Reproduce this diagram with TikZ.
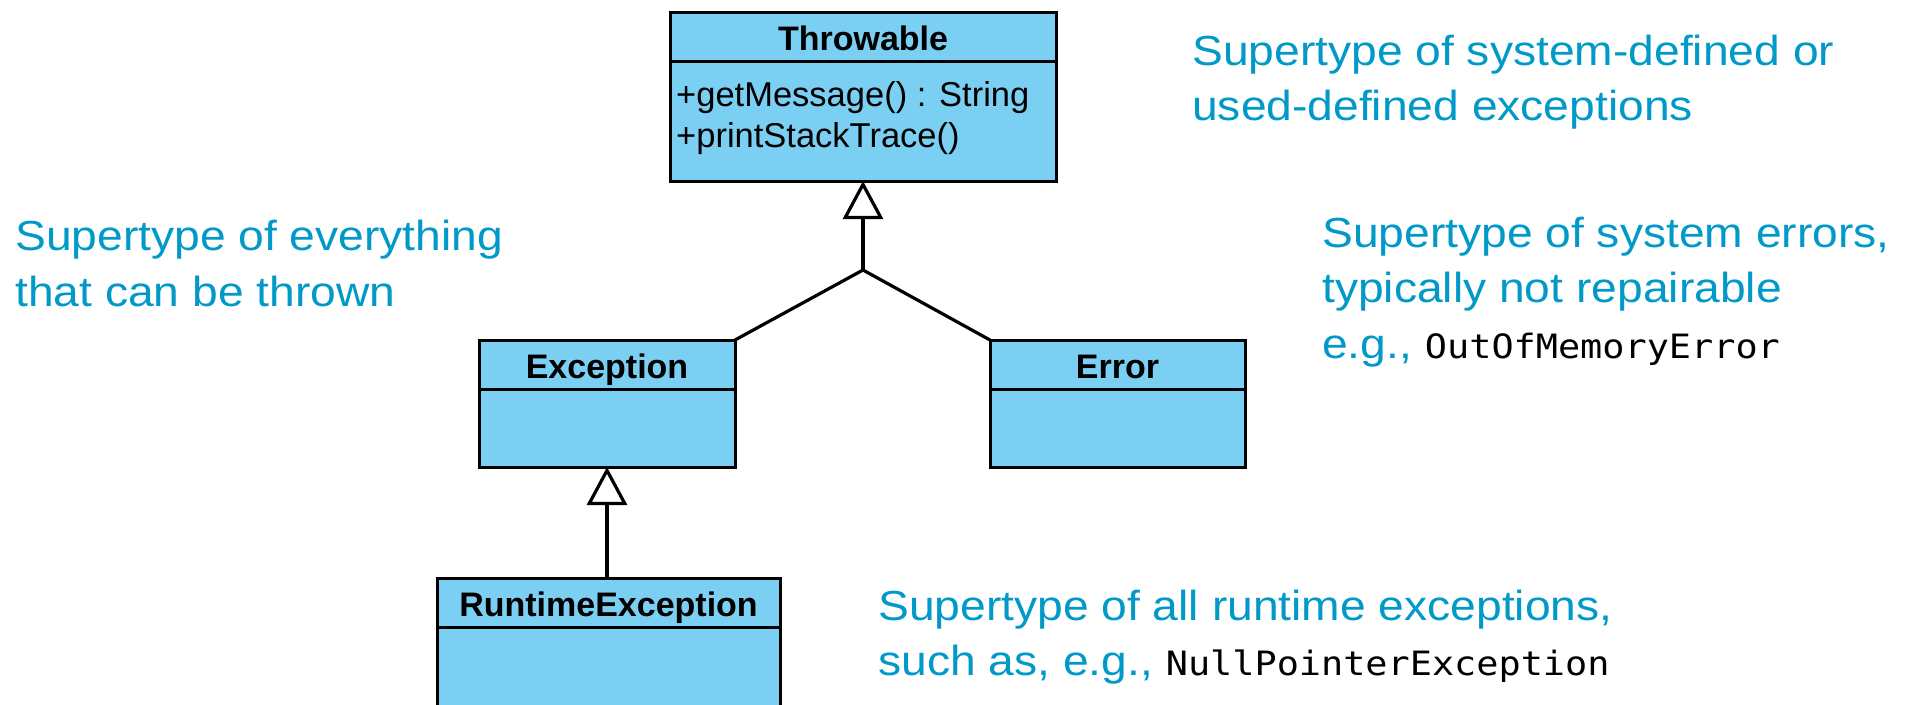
\documentclass[tikz,border=0pt]{standalone}
\usepackage{fontspec}
\setmainfont{Liberation Sans}[FakeStretch=1.1]
\newfontfamily\umlfont{Liberation Sans}
\newfontfamily\codefont{DejaVu Sans Mono}[FakeStretch=1.1]
\usetikzlibrary{arrows.meta}
\definecolor{umlfill}{RGB}{122,207,243}
\definecolor{noteblue}{RGB}{0,153,200}
\newcommand{\code}[1]{{\color{black}\codefont\fontsize{33.5}{40}\selectfont #1}}

\begin{document}
\begin{tikzpicture}[x=1pt,y=-1pt,
  classhead/.style={draw=black, fill=umlfill, line width=3pt, inner sep=0pt,
    outer sep=0pt, anchor=north west, text height=38pt, text depth=11pt,
    font=\umlfont\fontsize{34}{40}\selectfont\bfseries},
  classbody/.style={draw=black, fill=umlfill, line width=3pt, inner sep=0pt,
    outer sep=0pt, anchor=north west},
  member/.style={anchor=base west, inner sep=0pt,
    font=\umlfont\fontsize{34.5}{40}\selectfont},
  note/.style={anchor=base west, inner sep=0pt, text=noteblue,
    font=\fontsize{42}{50}\selectfont},
  inherit/.style={line width=3.2pt, -{Triangle[open,length=38pt,width=40pt]}},
  link/.style={line width=3.2pt}]

  % page
  \useasboundingbox (0,0) rectangle (1910,704);
  \clip (0,0) rectangle (1910,704);
  \fill[white] (0,0) rectangle (1910,704);

  % Throwable
  \node[classhead, minimum width=386pt] (thr) at (670,12) {Throwable};
  \node[classbody, minimum width=386pt, minimum height=120pt] (thrb) at (thr.south west) {};
  \node[member] (thrm1) at ([xshift=6pt,yshift=-45pt]thrb.north west) {+getMessage() : String};
  \node[member] (thrm2) at ([xshift=6pt,yshift=-86pt]thrb.north west) {+printStackTrace()};

  % Exception
  \node[classhead, minimum width=256pt] (exc) at (479,340) {Exception};
  \node[classbody, minimum width=256pt, minimum height=78pt] (excb) at (exc.south west) {};

  % Error
  \node[classhead, minimum width=255pt] (err) at (990,340) {Error};
  \node[classbody, minimum width=255pt, minimum height=78pt] (errb) at (err.south west) {};

  % RuntimeException (continues below the page edge)
  \node[classhead, minimum width=343pt] (rte) at (437,578) {RuntimeException};
  \node[classbody, minimum width=343pt, minimum height=200pt] (rteb) at (rte.south west) {};

  % generalisation arrows
  \coordinate (fork) at (thrb.south |- 0,270);
  \draw[inherit] (fork) -- (thrb.south);
  \draw[link] (exc.north east) -- (fork) -- (err.north west);
  \draw[inherit] (excb.south |- rte.north) -- (excb.south);

  % notes
  \node[note] (n1a) at (1192,65) {Supertype of system-defined or};
  \node[note] (n1b) at (1192,120) {used-defined exceptions};

  \node[note] (n2a) at (15,250) {Supertype of everything};
  \node[note] (n2b) at (15,306) {that can be thrown};

  \node[note] (n3a) at (1322,247) {Supertype of system errors,};
  \node[note] (n3b) at (1322,302) {typically not repairable};
  \node[note] (n3c) at (1322,358) {e.g., \code{OutOfMemoryError}};

  \node[note] (n4a) at (878,620) {Supertype of all runtime exceptions,};
  \node[note] (n4b) at (878,675) {such as, e.g., \code{NullPointerException}};
\end{tikzpicture}
\end{document}
